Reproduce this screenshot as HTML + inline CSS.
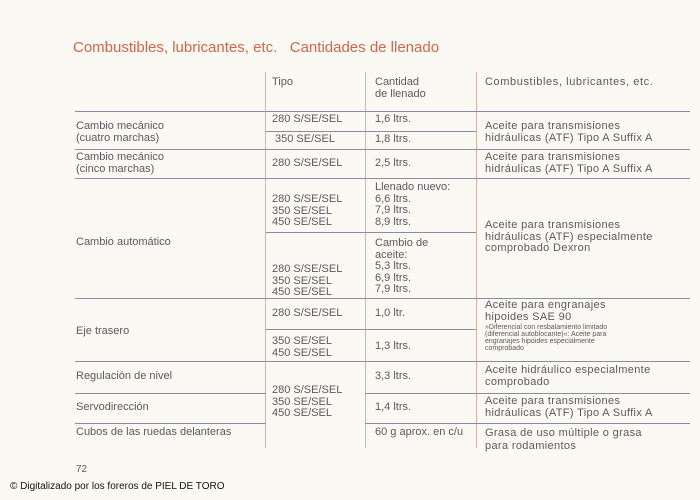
<!DOCTYPE html>
<html><head><meta charset="utf-8"><style>
body{margin:0;width:700px;height:500px;background:#fbf9f3;position:relative;overflow:hidden;font-family:"Liberation Sans",sans-serif;color:#5a5a5e;font-size:11px}
.t{position:absolute;line-height:11.5px;white-space:nowrap}
.c4{letter-spacing:0.35px}
.h{position:absolute;height:1px;background:#8a8ca4}
.v{position:absolute;width:1px;background:#d8b0a8}
.s{font-size:7px;line-height:7px;letter-spacing:0}
</style></head><body>
<div class="t" style="left:73px;top:40px;font-size:15px;color:#d0664e;line-height:16px">Combustibles, lubricantes, etc. &nbsp;&nbsp;Cantidades de llenado</div>

<div class="v" style="left:265px;top:72px;height:376px"></div>
<div class="v" style="left:365px;top:72px;height:376px"></div>
<div class="v" style="left:476px;top:72px;height:376px"></div>

<div class="h" style="left:75px;top:111px;width:615px"></div>
<div class="h" style="left:266px;top:131px;width:210px"></div>
<div class="h" style="left:75px;top:149px;width:615px"></div>
<div class="h" style="left:75px;top:178px;width:615px"></div>
<div class="h" style="left:266px;top:232px;width:210px"></div>
<div class="h" style="left:75px;top:298px;width:615px"></div>
<div class="h" style="left:266px;top:329px;width:210px"></div>
<div class="h" style="left:75px;top:361px;width:615px"></div>
<div class="h" style="left:75px;top:393px;width:191px"></div>
<div class="h" style="left:365px;top:393px;width:325px"></div>
<div class="h" style="left:75px;top:423px;width:191px"></div>
<div class="h" style="left:365px;top:423px;width:325px"></div>

<div class="t" style="left:272px;top:77px">Tipo</div>
<div class="t" style="left:375px;top:77px">Cantidad<br>de llenado</div>
<div class="t" style="left:485px;top:77px;letter-spacing:0.6px">Combustibles, lubricantes, etc.</div>

<div class="t" style="left:76px;top:121px">Cambio mecánico<br>(cuatro marchas)</div>
<div class="t" style="left:272px;top:114px">280 S/SE/SEL</div>
<div class="t" style="left:375px;top:114px">1,6 ltrs.</div>
<div class="t" style="left:275px;top:134px">350 SE/SEL</div>
<div class="t" style="left:375px;top:134px">1,8 ltrs.</div>
<div class="t c4" style="left:485px;top:121px">Aceite para transmisiones<br>hidráulicas (ATF) Tipo A Suffix A</div>

<div class="t" style="left:76px;top:152px">Cambio mecánico<br>(cinco marchas)</div>
<div class="t" style="left:272px;top:158px">280 S/SE/SEL</div>
<div class="t" style="left:375px;top:158px">2,5 ltrs.</div>
<div class="t c4" style="left:485px;top:152px">Aceite para transmisiones<br>hidráulicas (ATF) Tipo A Suffix A</div>

<div class="t" style="left:76px;top:237px">Cambio automático</div>
<div class="t" style="left:272px;top:194px">280 S/SE/SEL<br>350 SE/SEL<br>450 SE/SEL</div>
<div class="t" style="left:375px;top:182px">Llenado nuevo:<br>6,6 ltrs.<br>7,9 ltrs.<br>8,9 ltrs.</div>
<div class="t" style="left:375px;top:238px">Cambio de<br>aceite:<br>5,3 ltrs.<br>6,9 ltrs.<br>7,9 ltrs.</div>
<div class="t" style="left:272px;top:264px">280 S/SE/SEL<br>350 SE/SEL<br>450 SE/SEL</div>
<div class="t c4" style="left:485px;top:220px">Aceite para transmisiones<br>hidráulicas (ATF) especialmente<br>comprobado Dexron</div>

<div class="t" style="left:76px;top:326px">Eje trasero</div>
<div class="t" style="left:272px;top:308px">280 S/SE/SEL</div>
<div class="t" style="left:375px;top:308px">1,0 ltr.</div>
<div class="t" style="left:272px;top:336px">350 SE/SEL<br>450 SE/SEL</div>
<div class="t" style="left:375px;top:341px">1,3 ltrs.</div>
<div class="t c4" style="left:485px;top:300px">Aceite para engranajes<br>hipoides SAE 90</div>
<div class="t s" style="left:485px;top:324px">»Diferencial con resbalamiento limitado<br>(diferencial autoblocante)«: Aceite para<br>engranajes hipoides especialmente<br>comprobado</div>

<div class="t" style="left:76px;top:371px">Regulación de nivel</div>
<div class="t" style="left:375px;top:371px">3,3 ltrs.</div>
<div class="t c4" style="left:485px;top:365px">Aceite hidráulico especialmente<br>comprobado</div>

<div class="t" style="left:272px;top:385px">280 S/SE/SEL<br>350 SE/SEL<br>450 SE/SEL</div>
<div class="t" style="left:76px;top:402px">Servodirección</div>
<div class="t" style="left:375px;top:402px">1,4 ltrs.</div>
<div class="t c4" style="left:485px;top:396px">Aceite para transmisiones<br>hidráulicas (ATF) Tipo A Suffix A</div>

<div class="t" style="left:76px;top:427px">Cubos de las ruedas delanteras</div>
<div class="t" style="left:375px;top:427px">60 g aprox. en c/u</div>
<div class="t c4" style="left:485px;top:427px;line-height:13px">Grasa de uso múltiple o grasa<br>para rodamientos</div>

<div class="t" style="left:76px;top:464px;font-size:10px">72</div>
<div class="t" style="left:10px;top:481px;font-size:10px;color:#111">© Digitalizado por los foreros de PIEL DE TORO</div>
</body></html>
